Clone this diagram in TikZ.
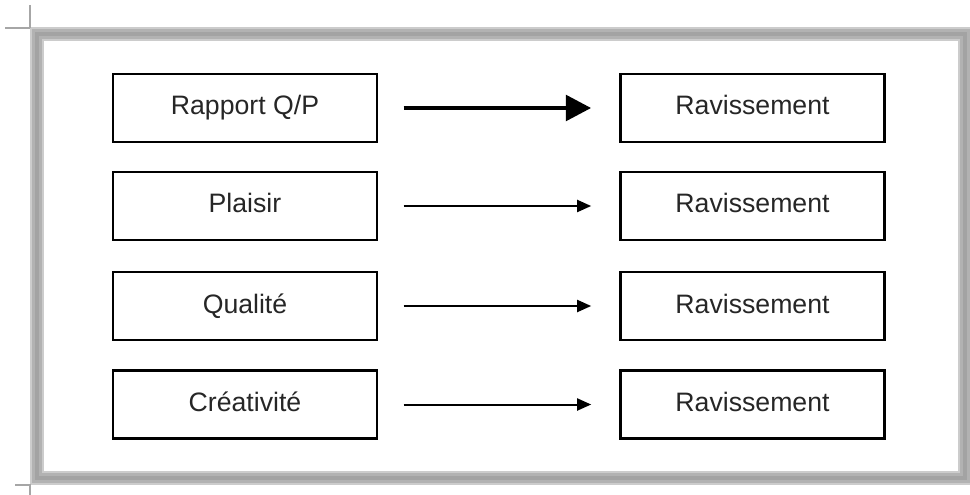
\documentclass[tikz,border=0pt]{standalone}
\usepackage{fontspec}
\setmainfont{Liberation Sans}
\usepackage{tikz}
\usetikzlibrary{arrows.meta,positioning}

\begin{document}
\begin{tikzpicture}[
    x=0.75pt, y=-0.75pt,
    box/.style={draw, line width=2pt, minimum width=198pt, minimum height=51pt, inner sep=0pt,
        text height=14.5pt, text depth=4pt,
        font=\fontsize{20}{24}\selectfont, text=black!85},
    thin/.style={-{Triangle[length=10.5pt,width=9pt]}, line width=1.5pt, shorten <=19pt, shorten >=21pt},
    bold/.style={-{Triangle[length=19pt,width=19pt]}, line width=3.5pt, shorten <=19pt, shorten >=21pt}
]
\useasboundingbox (0,0) rectangle (970,495);
% frame
\draw[gray!40, line width=11pt] (37,34) rectangle (965,478);
\draw[gray!60, line width=7pt] (37,34) rectangle (965,478);
\draw[gray!72, line width=3pt] (37,34) rectangle (965,478);
\draw[gray!70, line width=0.8pt] (30,5) -- (30,28) (5,28) -- (30,28);
\draw[gray!70, line width=0.8pt] (15,485) -- (30,485) -- (30,495);

\node[box] (qp) at (245,108) {Rapport Q/P};
\node[box] (plaisir) at (245,206) {Plaisir};
\node[box] (qualite) at (245,306) {Qualité};
\node[box] (creat) at (245,404.5) {Créativité};

\node[box] (rav1) at (752.5,108) {Ravissement};
\node[box] (rav2) at (752.5,206) {Ravissement};
\node[box] (rav3) at (752.5,306) {Ravissement};
\node[box] (rav4) at (752.5,404.5) {Ravissement};

\draw[bold] (qp) -- (rav1);
\draw[thin] (plaisir) -- (rav2);
\draw[thin] (qualite) -- (rav3);
\draw[thin] (creat) -- (rav4);
\end{tikzpicture}
\end{document}
